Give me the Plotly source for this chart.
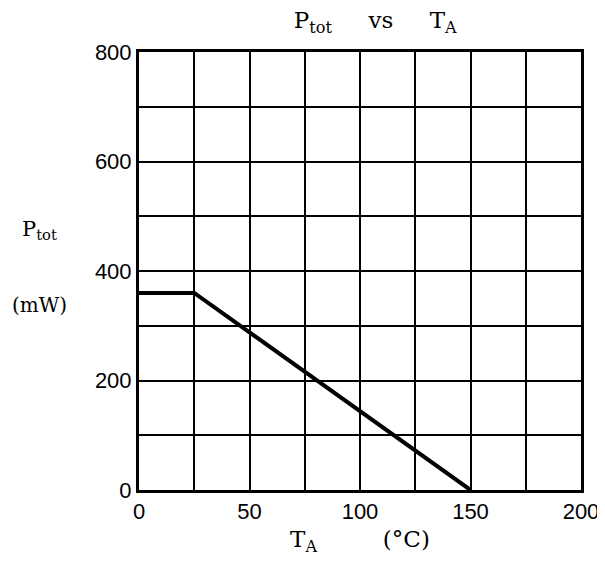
import plotly.graph_objects as go

# Data
temp_c = [0, 25, 150]
p_tot_mw = [360, 360, 0]

x_tick_vals = [0, 50, 100, 150, 200]
x_tick_text = ["0", "50", "100", "150", "200"]
y_tick_vals = [0, 200, 400, 600, 800]
y_tick_text = ["0", "200", "400", "600", "800"]

serif = "DejaVu Serif"
sans = "Liberation Sans"

fig = go.Figure()
fig.add_trace(go.Scatter(
    x=temp_c, y=p_tot_mw, mode="lines",
    line=dict(color="black", width=4),
    showlegend=False, hoverinfo="skip",
))

fig.update_layout(
    width=605, height=568,
    margin=dict(l=131, r=32, t=44, b=86),
    paper_bgcolor="white", plot_bgcolor="white",
    title=dict(
        text="P<sub>tot</sub>     vs     T<sub>A</sub>",
        x=0.607, xanchor="center", y=0.979, yanchor="middle",
        font=dict(family=serif, size=23, color="black"),
    ),
    xaxis=dict(
        range=[0, 200],
        tickvals=x_tick_vals, ticktext=x_tick_text,
        tickfont=dict(family=sans, size=22, color="black"),
        showgrid=True, gridcolor="black", gridwidth=2,
        minor=dict(dtick=25, showgrid=True, gridcolor="black", gridwidth=2),
        showline=True, linecolor="black", linewidth=3, mirror=True,
        ticks="", zeroline=False,
        title=dict(text="T<sub>A</sub>         (°C)",
                   font=dict(family=serif, size=23, color="black"),
                   standoff=8),
    ),
    yaxis=dict(
        range=[0, 800],
        tickvals=y_tick_vals, ticktext=y_tick_text,
        tickfont=dict(family=sans, size=22, color="black"),
        showgrid=True, gridcolor="black", gridwidth=2,
        minor=dict(dtick=100, showgrid=True, gridcolor="black", gridwidth=2),
        showline=True, linecolor="black", linewidth=3, mirror=True,
        ticks="", zeroline=False, ticklabelstandoff=0,
    ),
)

fig.add_annotation(text="P<sub>tot</sub>", xref="paper", yref="paper",
                   x=-0.224, y=0.594, xanchor="center", yanchor="middle",
                   showarrow=False, font=dict(family=serif, size=21, color="black"))
fig.add_annotation(text="(mW)", xref="paper", yref="paper",
                   x=-0.224, y=0.422, xanchor="center", yanchor="middle",
                   showarrow=False, font=dict(family=serif, size=20, color="black"))

fig.write_html("out.html")
